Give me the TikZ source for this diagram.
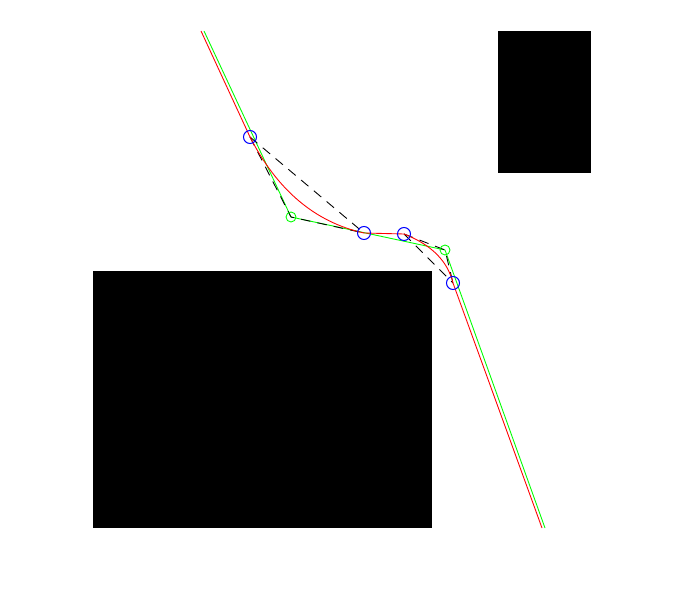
\documentclass[tikz,border=0pt]{standalone}
\usetikzlibrary{calc}

\tikzset{
  obstacle/.style={fill=black},
  waypoint/.style={draw=blue, line width=0.6pt},
  ctrlpoint/.style={draw=green, line width=0.5pt},
  helper/.style={black, dash pattern=on 5.5pt off 4pt, line width=0.5pt},
}

\begin{document}
\begin{tikzpicture}[x=0.02cm, y=-0.02cm]
    \useasboundingbox (0,0) rectangle (686,611);

    % obstacles
    \fill[obstacle] (498,31) rectangle (591,173);
    \fill[obstacle] (93,271) rectangle (432,528);

    % control polygon
    \coordinate (S)  at (204,31);
    \coordinate (C1) at (291,217);
    \coordinate (C2) at (445,250);
    \coordinate (G)  at (545,528);
    \draw[green, line width=0.5pt] (S) -- (C1) -- (C2) -- (G);

    % tangent points
    \coordinate (T1) at (250,137);
    \coordinate (T2) at (364,233);
    \coordinate (T3) at (404,234);
    \coordinate (T4) at (453,283);

    \draw[helper] (T1) -- (C1) -- (T2);
    \draw[helper] (T1) -- (T2);
    \draw[helper] (T3) -- (C2) -- (T4);
    \draw[helper] (T3) -- (T4);

    % smoothed path
    \coordinate (S') at (201,31);
    \coordinate (G') at (542,528);
    \draw[red, line width=0.5pt] (S') -- (T1)
      .. controls ($(T1)!2/3!(C1)$) and ($(T2)!2/3!(C1)$) .. (T2)
      -- (T3)
      .. controls ($(T3)!2/3!(C2)$) and ($(T4)!2/3!(C2)$) .. (T4)
      -- (G');

    \foreach \p in {C1,C2}
      \draw[ctrlpoint] (\p) circle (5);
    \foreach \p in {T1,T2,T3,T4}
      \draw[waypoint] (\p) circle (6.5);
  \end{tikzpicture}
\end{document}
